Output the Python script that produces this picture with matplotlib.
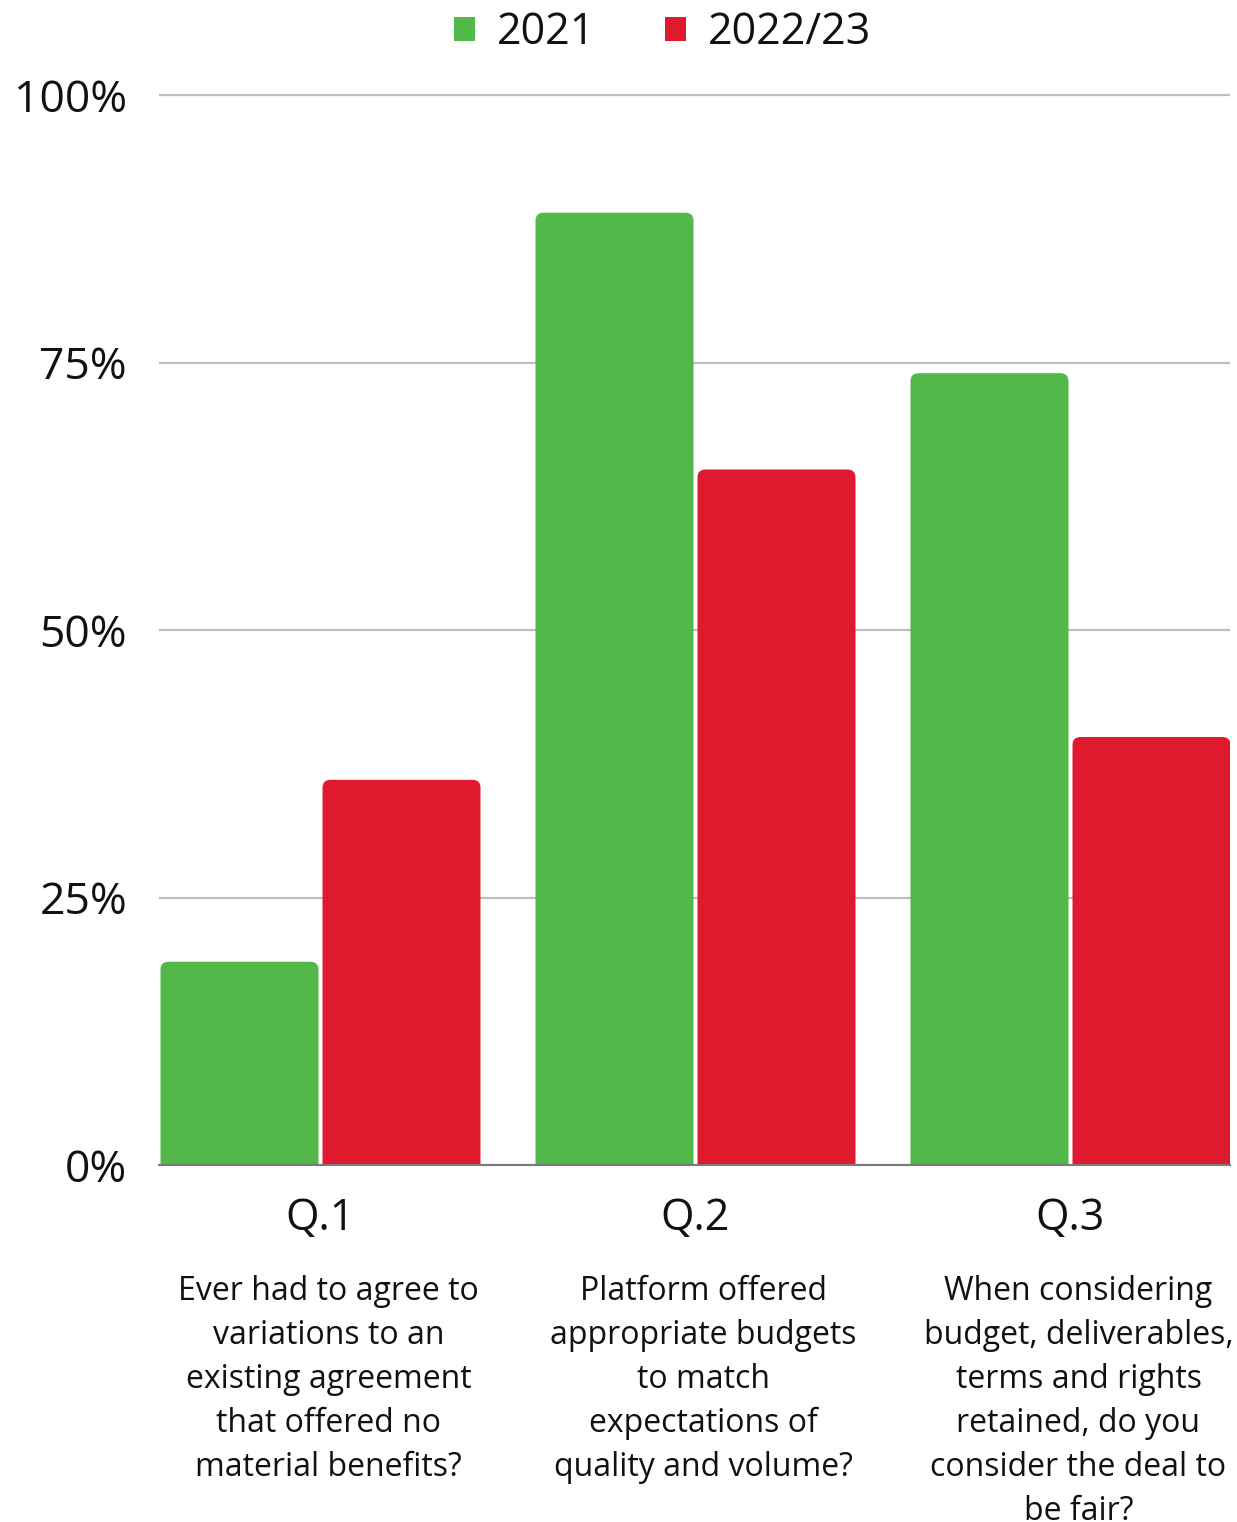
import matplotlib
matplotlib.use("Agg")
import matplotlib.pyplot as plt
from matplotlib.patches import FancyBboxPatch, Patch, BoxStyle
import matplotlib.transforms as mtrans

# ---- data ----
categories = ["Q.1", "Q.2", "Q.3"]
descriptions = [
    "Ever had to agree to\nvariations to an\nexisting agreement\nthat offered no\nmaterial benefits?",
    "Platform offered\nappropriate budgets\nto match\nexpectations of\nquality and volume?",
    "When considering\nbudget, deliverables,\nterms and rights\nretained, do you\nconsider the deal to\nbe fair?",
]
series_names = ["2021", "2022/23"]
values_2021 = [19, 89, 74]
values_2022 = [36, 65, 40]
yticks = [0, 25, 50, 75, 100]
ytick_labels = ["0%", "25%", "50%", "75%", "100%"]

GREEN = "#53B84A"
RED = "#E01A2E"
FONT = ["Open Sans", "DejaVu Sans"]
plt.rcParams["font.family"] = FONT

W, H = 1237, 1522
fig = plt.figure(figsize=(W / 100, H / 100), dpi=100)

# axes geometry in pixels
ax_left, ax_right = 159, 1230
y0_px = 1165            # 0%
px_per_pct = 10.7
ymax = 101
ax_top = y0_px - ymax * px_per_pct
ax = fig.add_axes([ax_left / W, (H - y0_px) / H, (ax_right - ax_left) / W, (y0_px - ax_top) / H])

group_px = 375.0
xmin = (ax_left - 320.5) / group_px
xmax = (ax_right - 1070.5) / group_px + 2
ax.set_xlim(xmin, xmax)
ax.set_ylim(0, ymax)

bw = 158 / group_px
off = 81 / group_px
xs = list(range(len(categories)))

bars1 = ax.bar([x - off for x in xs], values_2021, width=bw, color=GREEN, zorder=3)
bars2 = ax.bar([x + off for x in xs], values_2022, width=bw, color=RED, zorder=3)

# replace with top-rounded bars
r_px = 8
r_x = r_px / group_px
aspect = group_px / px_per_pct
for bars, col in ((bars1, GREEN), (bars2, RED)):
    for rect in bars:
        rect.set_visible(False)
        x0 = rect.get_x()
        h = rect.get_height()
        p = FancyBboxPatch((x0, -5), rect.get_width(), h + 5,
                           boxstyle=BoxStyle.Round(pad=0, rounding_size=r_x),
                           mutation_aspect=aspect, facecolor=col, edgecolor="none",
                           zorder=3)
        ax.add_patch(p)

# grid & spines
ax.set_yticks(yticks)
ax.set_yticklabels(ytick_labels)
ax.yaxis.grid(True, color="#BFBFBF", linewidth=1.6, zorder=0)
ax.set_axisbelow(True)
for s in ("top", "right", "left"):
    ax.spines[s].set_visible(False)
ax.spines["bottom"].set_color("#7A7A7A")
ax.spines["bottom"].set_linewidth(1.5)
ax.spines["bottom"].set_zorder(5)
ax.tick_params(axis="y", length=0, pad=23, labelsize=32, labelcolor="#111111")
ax.set_xticks(xs)
ax.set_xticklabels(categories)
ax.tick_params(axis="x", length=0, pad=23, labelsize=31, labelcolor="#111111")

# descriptions
trans = mtrans.blended_transform_factory(ax.transData, fig.transFigure)
desc_offset = 8 / group_px
for x, d in zip(xs, descriptions):
    ax.text(x + desc_offset, 1 - 1275 / H, d, transform=trans, ha="center", va="top",
            fontsize=23, linespacing=1.44, color="#111111", clip_on=False)

# legend
handles = [Patch(facecolor=GREEN, edgecolor="none"), Patch(facecolor=RED, edgecolor="none")]
fig.legend(handles, series_names, loc="center", bbox_to_anchor=(662.5 / W, 1 - 33 / H),
           ncol=2, frameon=False, fontsize=31, handlelength=0.49, handleheight=0.49,
           handletextpad=0.51, columnspacing=1.6, borderpad=0, labelcolor="#111111")

fig.savefig("out.png", dpi=100)
